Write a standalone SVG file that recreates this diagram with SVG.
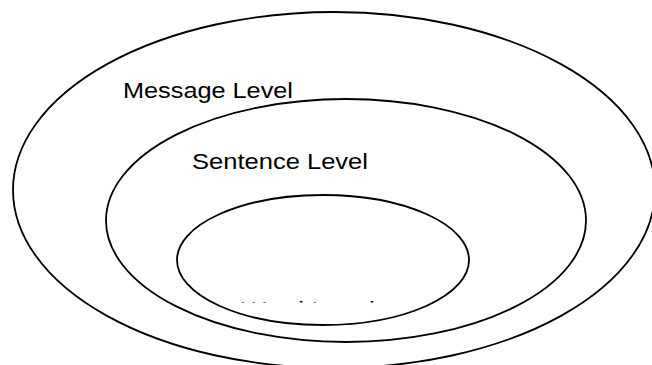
<svg xmlns="http://www.w3.org/2000/svg" width="652" height="365" viewBox="0 0 652 365">
<style>
.ring{fill:#fff;stroke:#000;stroke-width:1.8}
.lbl{font-family:"Liberation Sans",Arial,sans-serif;font-size:21.5px;fill:#000}
</style>
<defs>
<clipPath id="innerClip"><rect x="0" y="0" width="652" height="302.4"/></clipPath>
</defs>
<rect width="652" height="365" fill="#fff"/>
<g id="message-level">
<ellipse class="ring" cx="334" cy="190" rx="321" ry="178"/>
<text class="lbl" x="123" y="98" textLength="170" lengthAdjust="spacingAndGlyphs">Message Level</text>
</g>
<g id="sentence-level">
<ellipse class="ring" cx="346" cy="220.5" rx="240" ry="121.5"/>
<text class="lbl" x="192" y="169" textLength="176" lengthAdjust="spacingAndGlyphs">Sentence Level</text>
</g>
<g id="word-level">
<ellipse class="ring" cx="323" cy="260" rx="146" ry="65"/>
<text class="lbl" x="241" y="316.8" textLength="134" lengthAdjust="spacingAndGlyphs" clip-path="url(#innerClip)">Word Level</text>
</g>
<g id="connectors"/>
</svg>
